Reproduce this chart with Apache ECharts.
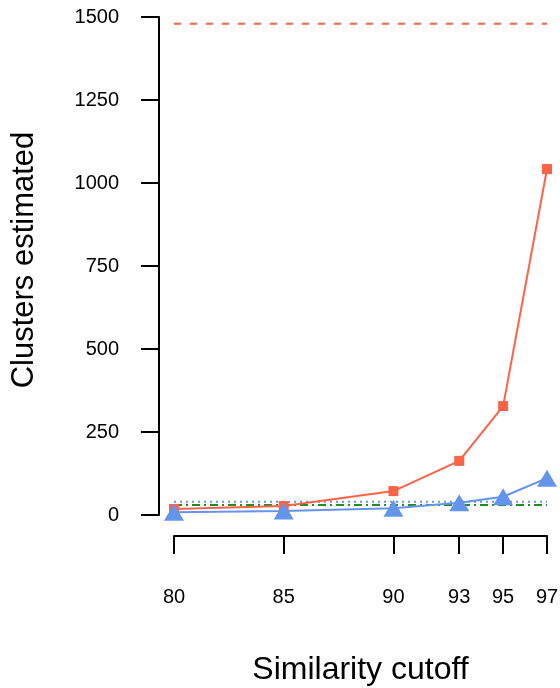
<!DOCTYPE html>
<html><head><meta charset="utf-8">
<script src="https://cdn.jsdelivr.net/npm/echarts@6/dist/echarts.min.js"></script>
<style>html,body{margin:0;padding:0;background:#fff}#c{width:560px;height:688px}</style>
</head><body><div id="c"></div>
<script>
const cutoffs = [80, 85, 90, 93, 95, 97];
const redValues = [18, 27, 72, 163, 328, 1042];
const blueValues = [8, 12, 20, 37, 55, 111];
const redRef = 1480;
const blueRef = 40;
const greenRef = 30;
const yTicks = [0, 250, 500, 750, 1000, 1250, 1500];

const FONT = "'Liberation Sans', Arial, Helvetica, sans-serif";
const pairs = (xs, ys) => xs.map((x, i) => [x, ys[i]]);
const flat = v => [[cutoffs[0], v], [cutoffs[cutoffs.length - 1], v]];

const chart = echarts.init(document.getElementById('c'), null, {renderer: 'canvas'});
chart.setOption({
  animation: false,
  backgroundColor: '#fff',
  textStyle: {fontFamily: FONT},
  grid: [
    {left: 159, right: 13, top: 17, bottom: 173, outerBoundsMode: 'none', containLabel: false},
    {left: 174, right: 13, top: 515, bottom: 152, outerBoundsMode: 'none', containLabel: false}
  ],
  xAxis: [
    {gridIndex: 0, type: 'value', min: 79.316, max: 97, show: false},
    {gridIndex: 1, type: 'value', min: 80, max: 97, position: 'bottom',
     axisLine: {show: true, lineStyle: {color: '#000', width: 2}},
     axisTick: {show: true, customValues: cutoffs, length: 18, lineStyle: {color: '#000', width: 2}},
     axisLabel: {customValues: cutoffs, margin: 51, fontSize: 20, color: '#000', fontFamily: FONT,
                 formatter: v => String(v)},
     splitLine: {show: false},
     name: 'Similarity cutoff', nameLocation: 'middle', nameGap: 118,
     nameTextStyle: {fontSize: 32, color: '#000', fontFamily: FONT}}
  ],
  yAxis: [
    {gridIndex: 0, type: 'value', min: 0, max: 1500, interval: 250,
     axisLine: {show: true, lineStyle: {color: '#000', width: 2}},
     axisTick: {show: true, length: 18, lineStyle: {color: '#000', width: 2}},
     axisLabel: {margin: 40, fontSize: 20, color: '#000', fontFamily: FONT,
                 customValues: yTicks, formatter: v => String(v)},
     splitLine: {show: false},
     name: 'Clusters estimated', nameLocation: 'middle', nameGap: 119, nameRotate: 90,
     nameTextStyle: {fontSize: 31, color: '#000', fontFamily: FONT, padding: [0, 0, 0, 12]}},
    {gridIndex: 1, type: 'value', show: false}
  ],
  series: [
    {type: 'line', data: flat(redRef), symbol: 'none', clip: false,
     lineStyle: {color: '#FF6347', width: 2, type: [7, 9]}},
    {type: 'line', data: flat(blueRef), symbol: 'none', clip: false,
     lineStyle: {color: '#6495ED', width: 2, type: [2, 4]}},
    {type: 'line', data: flat(greenRef), symbol: 'none', clip: false,
     lineStyle: {color: '#228B22', width: 2, type: [8, 4, 2, 4]}},
    {type: 'line', data: pairs(cutoffs, redValues), clip: false,
     symbol: 'rect', symbolSize: 10,
     itemStyle: {color: '#FF6347'}, lineStyle: {color: '#FF6347', width: 2}},
    {type: 'line', data: pairs(cutoffs, blueValues), clip: false,
     symbol: 'triangle', symbolSize: [20, 17],
     itemStyle: {color: '#6495ED'}, lineStyle: {color: '#6495ED', width: 2}}
  ]
});
</script>
</body></html>
